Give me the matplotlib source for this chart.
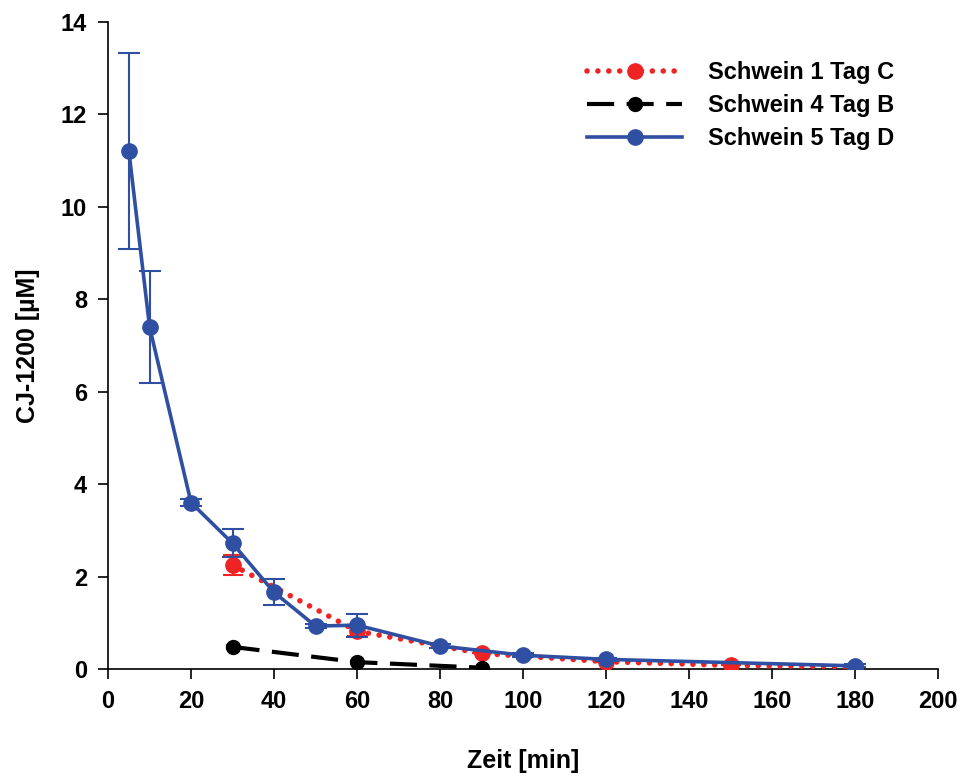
import matplotlib
matplotlib.use("Agg")
import matplotlib.pyplot as plt

plt.rcParams['font.family'] = ['Liberation Sans', 'DejaVu Sans']
plt.rcParams['font.weight'] = 'bold'

# Data
red_x = [30, 60, 90, 120, 150, 180]
red_y = [2.25, 0.82, 0.34, 0.16, 0.08, 0.05]
red_err = [0.22, 0.1, 0.0, 0.0, 0.0, 0.0]

black_x = [30, 60, 90]
black_y = [0.48, 0.15, 0.03]
black_err = [0.05, 0.02, 0.0]

blue_x = [5, 10, 20, 30, 40, 50, 60, 80, 100, 120, 180]
blue_y = [11.21, 7.40, 3.60, 2.72, 1.66, 0.93, 0.95, 0.50, 0.30, 0.21, 0.07]
blue_err = [2.12, 1.22, 0.08, 0.30, 0.28, 0.05, 0.25, 0.05, 0.04, 0.03, 0.03]

labels = ['Schwein 1 Tag C', 'Schwein 4 Tag B', 'Schwein 5 Tag D']
xticks = list(range(0, 201, 20))
yticks = list(range(0, 15, 2))

RED = '#EE2424'
BLACK = '#000000'
BLUE = '#2F4FA2'
FS = 17

fig = plt.figure(figsize=(9.65, 7.78), dpi=100)
ax = fig.add_axes([0.112, 0.140, 0.860, 0.832])

# red dotted
ax.errorbar(red_x, red_y, yerr=red_err, color=RED, ecolor=RED, elinewidth=1.5,
            capsize=7, capthick=1.5, fmt='none', zorder=2)
l1, = ax.plot(red_x, red_y, color=RED, linestyle=(0, (0.01, 1.95)), linewidth=4.0,
              dash_capstyle='round', marker='o', markersize=11, zorder=3)

# black dashed
ax.errorbar(black_x, black_y, yerr=black_err, color=BLACK, ecolor=BLACK, elinewidth=1.2,
            capsize=5, capthick=1.2, fmt='none', zorder=2)
l2, = ax.plot(black_x, black_y, color=BLACK, linestyle=(0, (6.5, 3)), linewidth=3,
              dash_capstyle='butt', marker='o', markersize=10, zorder=3)

# blue solid
ax.errorbar(blue_x, blue_y, yerr=blue_err, color=BLUE, ecolor=BLUE, elinewidth=1.5,
            capsize=8, capthick=1.5, fmt='none', zorder=4)
l3, = ax.plot(blue_x, blue_y, color=BLUE, linestyle='-', linewidth=2.6,
              marker='o', markersize=11, zorder=5)

ax.set_xlim(0, 200)
ax.set_ylim(0, 14)
ax.set_xticks(xticks)
ax.set_yticks(yticks)
ax.set_xticklabels([str(t) for t in xticks], fontsize=FS, fontweight='bold')
ax.set_yticklabels([str(t) for t in yticks], fontsize=FS, fontweight='bold')
ax.tick_params(direction='out', length=7, width=1.2, pad=8)
for s in ['top', 'right']:
    ax.spines[s].set_visible(False)
for s in ['left', 'bottom']:
    ax.spines[s].set_linewidth(1.2)

ax.set_xlabel('Zeit [min]', fontsize=FS + 1, fontweight='bold', labelpad=26)
ax.set_ylabel('CJ-1200 [µM]', fontsize=FS + 1, fontweight='bold', labelpad=15)

leg = ax.legend([l1, l2, l3], labels, loc='upper left', bbox_to_anchor=(0.552, 0.972),
                frameon=False, handlelength=4.0, handletextpad=1.1,
                labelspacing=0.42, prop={'weight': 'bold', 'size': FS})

fig.savefig('out.png', dpi=100)
